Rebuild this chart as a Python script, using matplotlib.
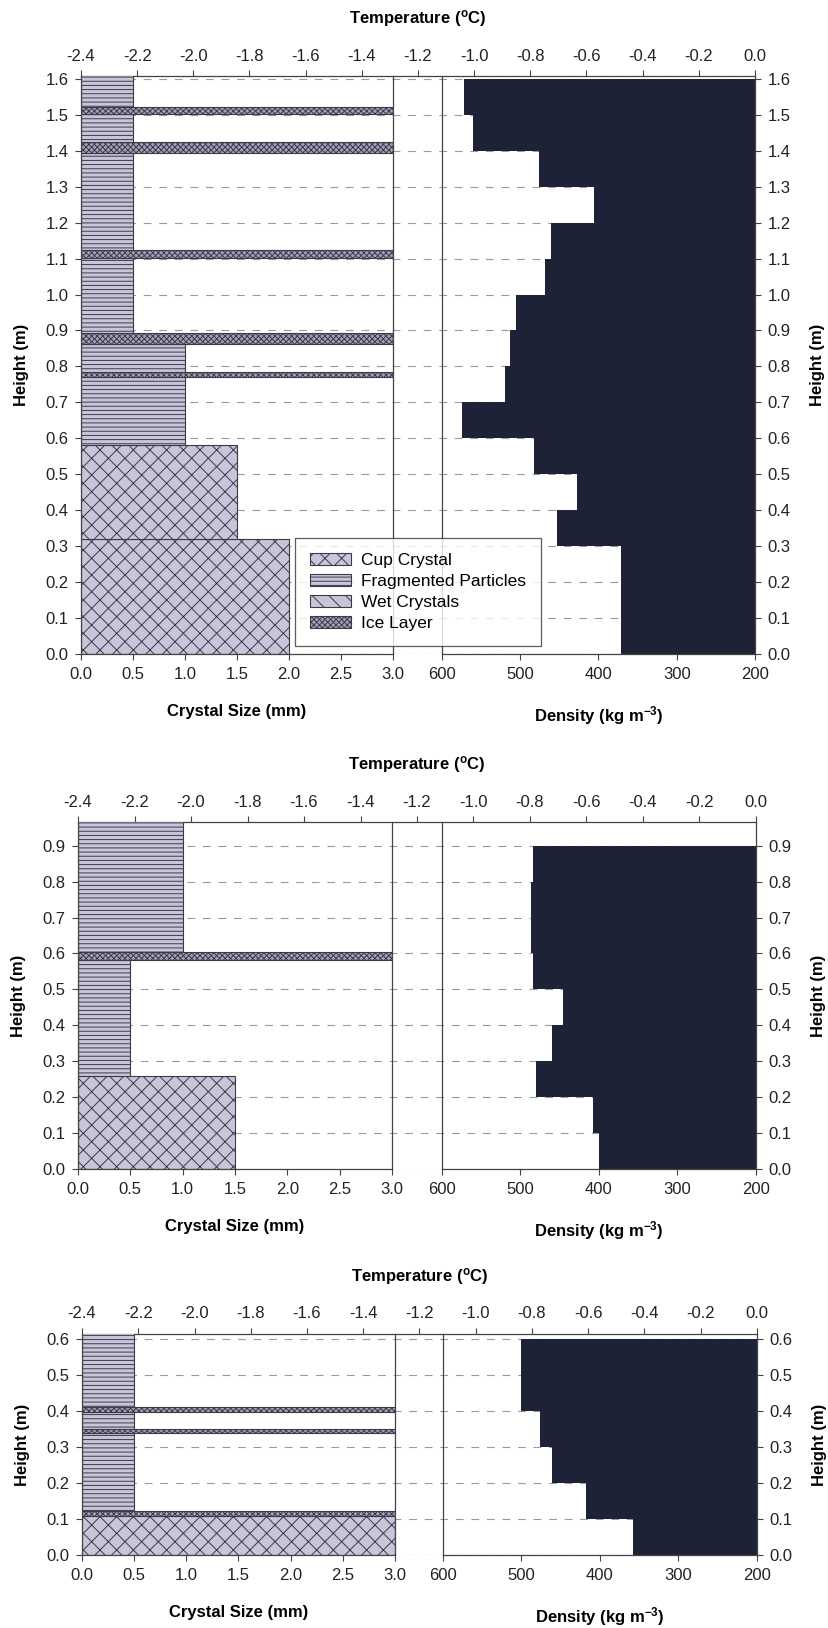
import numpy as np
import matplotlib
matplotlib.use("Agg")
import matplotlib.pyplot as plt
from matplotlib.patches import Patch
from matplotlib.ticker import FormatStrFormatter

plt.rcParams['font.family'] = ['Liberation Sans', 'DejaVu Sans']
plt.rcParams['mathtext.default'] = 'regular'
plt.rcParams['hatch.linewidth'] = 0.7

# ---- data -------------------------------------------------------------
crystal_types = ["Cup Crystal", "Fragmented Particles", "Wet Crystals", "Ice Layer"]
temp_ticks = [-2.4, -2.2, -2.0, -1.8, -1.6, -1.4, -1.2, -1.0, -0.8, -0.6, -0.4, -0.2, 0.0]
size_ticks = [0.0, 0.5, 1.0, 1.5, 2.0, 2.5, 3.0]
density_ticks = [600, 500, 400, 300, 200]

# profile 1 (1.6 m)
p1_height_ticks = [0.0, 0.1, 0.2, 0.3, 0.4, 0.5, 0.6, 0.7, 0.8, 0.9, 1.0, 1.1, 1.2, 1.3, 1.4, 1.5, 1.6]
p1_crystal_bottom = [0.000, 0.320, 0.582, 0.772, 0.784, 0.863, 0.894, 1.101, 1.124, 1.393, 1.423, 1.503, 1.523]
p1_crystal_top = [0.320, 0.582, 0.772, 0.784, 0.863, 0.894, 1.101, 1.124, 1.393, 1.423, 1.503, 1.523, 1.610]
p1_crystal_size = [2.0, 1.5, 1.0, 3.0, 1.0, 3.0, 0.5, 3.0, 0.5, 3.0, 0.5, 3.0, 0.5]
p1_crystal_type = ["Cup Crystal", "Cup Crystal", "Fragmented Particles", "Ice Layer",
                   "Fragmented Particles", "Ice Layer", "Fragmented Particles", "Ice Layer",
                   "Fragmented Particles", "Ice Layer", "Fragmented Particles", "Ice Layer",
                   "Fragmented Particles"]
p1_density_edges = [0.0, 0.3, 0.4, 0.5, 0.6, 0.7, 0.8, 0.9, 1.0, 1.1, 1.2, 1.3, 1.4, 1.5, 1.6]
p1_density = [371, 453, 428, 483, 574, 519, 513, 506, 468, 461, 406, 476, 560, 572]

# profile 2 (0.9 m)
p2_height_ticks = [0.0, 0.1, 0.2, 0.3, 0.4, 0.5, 0.6, 0.7, 0.8, 0.9]
p2_crystal_bottom = [0.000, 0.258, 0.582, 0.604]
p2_crystal_top = [0.258, 0.582, 0.604, 0.970]
p2_crystal_size = [1.5, 0.5, 3.0, 1.0]
p2_crystal_type = ["Cup Crystal", "Fragmented Particles", "Ice Layer", "Fragmented Particles"]
p2_density_edges = [0.0, 0.1, 0.2, 0.3, 0.4, 0.5, 0.6, 0.7, 0.8, 0.9]
p2_density = [400, 408, 480, 460, 446, 484, 486, 486, 484]

# profile 3 (0.6 m)
p3_height_ticks = [0.0, 0.1, 0.2, 0.3, 0.4, 0.5, 0.6]
p3_crystal_bottom = [0.000, 0.107, 0.121, 0.338, 0.350, 0.398, 0.412]
p3_crystal_top = [0.107, 0.121, 0.338, 0.350, 0.398, 0.412, 0.620]
p3_crystal_size = [3.0, 3.0, 0.5, 3.0, 0.5, 3.0, 0.5]
p3_crystal_type = ["Cup Crystal", "Ice Layer", "Fragmented Particles", "Ice Layer",
                   "Fragmented Particles", "Ice Layer", "Fragmented Particles"]
p3_density_edges = [0.0, 0.1, 0.2, 0.3, 0.4, 0.6]
p3_density = [358, 418, 461, 477, 501]

# ---- style ------------------------------------------------------------
W, H = 829, 1628
HATCH_EDGE = '#3b3a4a'
DARK = '#1e2236'
faces = {"Cup Crystal": '#c7c5d7', "Fragmented Particles": '#c7c5d7',
         "Wet Crystals": '#c7c5d7', "Ice Layer": '#a3a1b5'}
hatches = {"Cup Crystal": 'xx', "Fragmented Particles": '----',
           "Wet Crystals": '\\\\', "Ice Layer": 'xxxxxx'}
TICK_FS = 12
LABEL_FS = 12


def style_ticks(ax):
    ax.tick_params(direction='out', length=4, width=0.8, labelsize=TICK_FS,
                   color='#444444', labelcolor='#222222', pad=5)
    for s in ax.spines.values():
        s.set_color('#444444')
        s.set_linewidth(0.9)


def draw_panel(fig, box, ytop, yticks, c_bot, c_top, c_size, c_type, d_edges, d_vals):
    left, mid_l, mid_r, right, top, bottom = box
    h = (bottom - top) / H
    b = 1 - bottom / H

    ax_t = fig.add_axes([left / W, b, (right - left) / W, h])
    ax_c = fig.add_axes([left / W, b, (mid_l - left) / W, h])
    ax_d = fig.add_axes([mid_r / W, b, (right - mid_r) / W, h])
    ax_t.set_zorder(0)
    ax_c.set_zorder(1)
    ax_d.set_zorder(1)
    ax_c.patch.set_visible(False)
    ax_d.patch.set_visible(False)

    # temperature axis across both plots
    ax_t.set_xlim(-2.4, 0.0)
    ax_t.set_ylim(0, ytop)
    ax_t.set_xticks(temp_ticks)
    ax_t.xaxis.set_major_formatter(FormatStrFormatter('%.1f'))
    ax_t.xaxis.tick_top()
    ax_t.xaxis.set_label_position('top')
    ax_t.set_xlabel('Temperature ($^{o}$C)', fontsize=LABEL_FS, fontweight='bold', labelpad=18)
    ax_t.set_yticks(yticks)
    ax_t.tick_params(axis='y', left=False, labelleft=False)
    ax_t.grid(axis='y', color='#9a9a9a', linestyle=(0, (7, 7)), linewidth=0.8)
    for s in ['left', 'right', 'bottom']:
        ax_t.spines[s].set_visible(False)
    style_ticks(ax_t)

    # crystal size
    for y0, y1, sz, kind in zip(c_bot, c_top, c_size, c_type):
        ax_c.barh(y0, sz, height=y1 - y0, align='edge', facecolor=faces[kind],
                  edgecolor=HATCH_EDGE, hatch=hatches[kind], linewidth=0.8)
    ax_c.set_xlim(0, 3.0)
    ax_c.set_ylim(0, ytop)
    ax_c.set_xticks(size_ticks)
    ax_c.set_yticks(yticks)
    ax_c.xaxis.set_major_formatter(FormatStrFormatter('%.1f'))
    ax_c.yaxis.set_major_formatter(FormatStrFormatter('%.1f'))
    ax_c.spines['top'].set_visible(False)
    ax_c.set_xlabel('Crystal Size (mm)', fontsize=LABEL_FS, fontweight='bold', labelpad=16)
    ax_c.set_ylabel('Height (m)', fontsize=LABEL_FS, fontweight='bold', labelpad=12)
    style_ticks(ax_c)

    # density
    d_edges = np.array(d_edges)
    d_vals = np.array(d_vals)
    ax_d.barh(d_edges[:-1], 200 - d_vals, left=d_vals, height=np.diff(d_edges),
              align='edge', color=DARK, linewidth=0)
    ax_d.set_xlim(600, 200)
    ax_d.set_ylim(0, ytop)
    ax_d.set_xticks(density_ticks)
    ax_d.set_yticks(yticks)
    ax_d.yaxis.set_major_formatter(FormatStrFormatter('%.1f'))
    ax_d.yaxis.tick_right()
    ax_d.yaxis.set_label_position('right')
    ax_d.spines['top'].set_visible(False)
    ax_d.set_xlabel('Density (kg m$^{-3}$)', fontsize=LABEL_FS, fontweight='bold', labelpad=16)
    ax_d.set_ylabel('Height (m)', fontsize=LABEL_FS, fontweight='bold', labelpad=14)
    style_ticks(ax_d)
    return ax_t, ax_c, ax_d


fig = plt.figure(figsize=(W / 100, H / 100), dpi=100)

draw_panel(fig, (81, 393, 442, 755, 76, 654), 1.608, p1_height_ticks,
           p1_crystal_bottom, p1_crystal_top, p1_crystal_size, p1_crystal_type,
           p1_density_edges, p1_density)
draw_panel(fig, (78, 392, 442, 756, 822, 1169), 0.966, p2_height_ticks,
           p2_crystal_bottom, p2_crystal_top, p2_crystal_size, p2_crystal_type,
           p2_density_edges, p2_density)
draw_panel(fig, (82, 395, 443, 757, 1334, 1555), 0.614, p3_height_ticks,
           p3_crystal_bottom, p3_crystal_top, p3_crystal_size, p3_crystal_type,
           p3_density_edges, p3_density)

handles = [Patch(facecolor=faces[k], edgecolor=HATCH_EDGE, hatch=hatches[k], linewidth=0.8)
           for k in crystal_types]
leg = fig.legend(handles, crystal_types, loc='upper left',
                 bbox_to_anchor=(295 / W, 1 - 538 / H), fontsize=12.5,
                 frameon=True, fancybox=False, edgecolor='#333333',
                 handlelength=2.4, handleheight=0.75, labelspacing=0.32,
                 borderpad=0.85, handletextpad=0.55, borderaxespad=0)
leg.get_frame().set_linewidth(0.9)
leg.set_zorder(5)

fig.savefig('out.png', dpi=100, facecolor='white')
